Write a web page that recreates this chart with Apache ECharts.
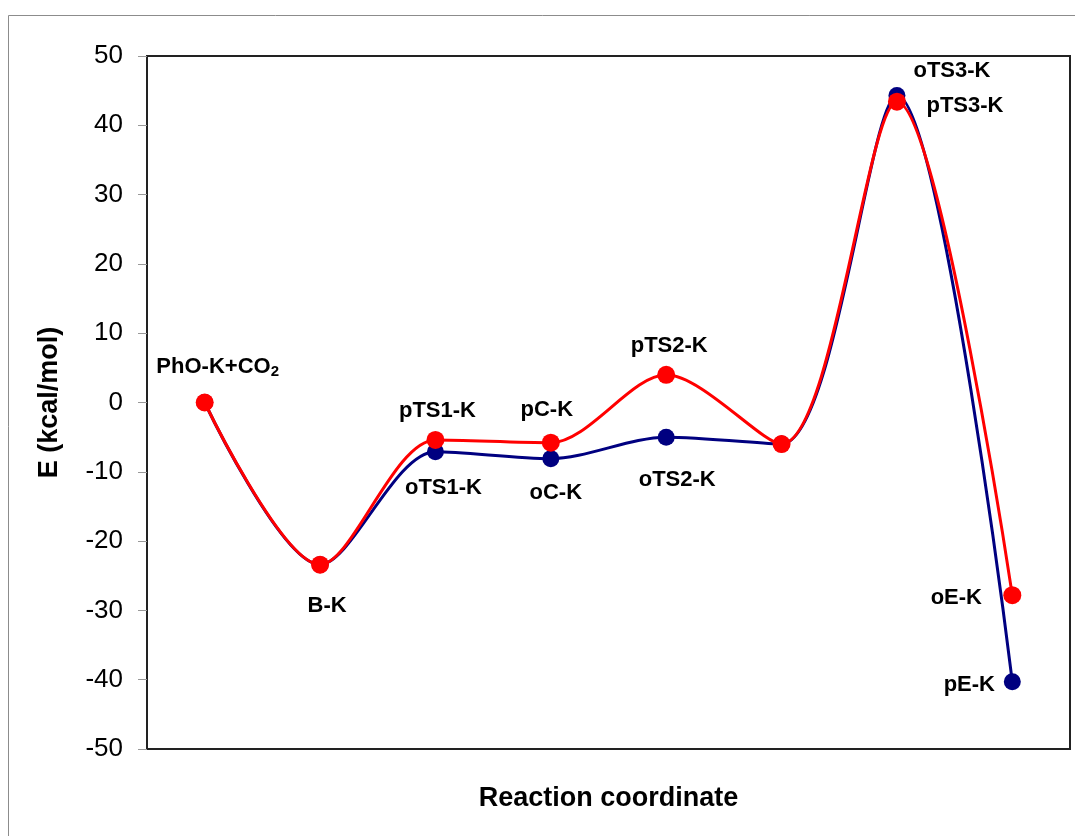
<!DOCTYPE html>
<html>
<head>
<meta charset="utf-8">
<script src="https://cdn.jsdelivr.net/npm/echarts@6/dist/echarts.min.js"></script>
<style>
html,body{margin:0;padding:0;background:#fff;}
#chart{width:1075px;height:836px;}
</style>
</head>
<body>
<div id="chart"></div>
<script>
// ---- data ----
var categories = ['R', 'B', 'TS1', 'C', 'TS2', 'I', 'TS3', 'E'];
var redValues  = [0, -23.4, -5.4, -5.8, 4.0, -6.0, 43.4, -27.8];
var blueValues = [0, -23.4, -7.1, -8.1, -5.0, -6.0, 44.3, -40.3];
var redLabels  = ['{a|PhO-K+CO}{s|2}', 'B-K', 'pTS1-K', 'pC-K', 'pTS2-K', '', 'pTS3-K', 'oE-K'];
var blueLabels = ['', '', 'oTS1-K', 'oC-K', 'oTS2-K', '', 'oTS3-K', 'pE-K'];
var yTicks = {min: -50, max: 50, interval: 10};

// ---- layout / style ----
var redOffsets  = [[13, -36], [7, 41], [2, -29], [-4, -33], [3, -29], [0, 0], [68, 4], [-56, 3]];
var blueOffsets = [[0, 0], [0, 0], [8, 36], [5, 34], [11, 43], [0, 0], [55, -25], [-43, 3]];
var FONT = '"Liberation Sans", Arial, sans-serif';

function buildData(values, labels, offsets) {
  return values.map(function (v, i) {
    var item = {value: v};
    if (labels[i]) {
      item.label = {show: true, formatter: labels[i], offset: offsets[i]};
    } else {
      item.label = {show: false};
    }
    return item;
  });
}

var labelStyle = {
  position: 'inside',
  color: '#000',
  fontFamily: FONT,
  fontWeight: 'bold',
  fontSize: 22,
  rich: {
    a: {fontFamily: FONT, fontWeight: 'bold', fontSize: 22, color: '#000'},
    s: {fontFamily: FONT, fontWeight: 'bold', fontSize: 15, color: '#000', padding: [10, 0, 0, 0]}
  }
};

var chart = echarts.init(document.getElementById('chart'), null, {renderer: 'canvas'});
chart.setOption({
  animation: false,
  backgroundColor: '#fff',
  graphic: [{
    type: 'rect',
    shape: {x: 8.5, y: 15.5, width: 1200, height: 1000},
    style: {fill: 'none', stroke: '#8c8c8c', lineWidth: 1},
    silent: true,
    z: -10
  }],
  grid: {
    left: 147, top: 56, right: 5, bottom: 87,
    show: true, borderColor: '#222', borderWidth: 2, backgroundColor: 'transparent'
  },
  xAxis: {
    type: 'category',
    data: categories,
    boundaryGap: true,
    name: 'Reaction coordinate',
    nameLocation: 'middle',
    nameGap: 36,
    nameTextStyle: {fontFamily: FONT, fontWeight: 'bold', fontSize: 27, color: '#000'},
    axisLine: {show: false, onZero: false},
    axisTick: {show: false},
    axisLabel: {show: false},
    splitLine: {show: false}
  },
  yAxis: {
    type: 'value',
    min: yTicks.min, max: yTicks.max, interval: yTicks.interval,
    name: 'E (kcal/mol)',
    nameLocation: 'middle',
    nameGap: 84,
    nameRotate: 90,
    nameTextStyle: {fontFamily: FONT, fontWeight: 'bold', fontSize: 27, color: '#000'},
    axisLine: {show: true, onZero: false, lineStyle: {color: '#222', width: 2}},
    axisTick: {show: true, inside: false, length: 9, lineStyle: {color: '#999', width: 1}},
    axisLabel: {fontFamily: FONT, fontSize: 26, color: '#000', margin: 24},
    splitLine: {show: false}
  },
  series: [
    {
      name: 'o',
      type: 'line',
      data: buildData(blueValues, blueLabels, blueOffsets),
      smooth: 0.3,
      symbol: 'circle',
      symbolSize: 17,
      showAllSymbol: true,
      lineStyle: {color: '#000080', width: 3},
      itemStyle: {color: '#000080'},
      label: labelStyle,
      emphasis: {disabled: true},
      z: 2
    },
    {
      name: 'p',
      type: 'line',
      data: buildData(redValues, redLabels, redOffsets),
      smooth: 0.3,
      symbol: 'circle',
      symbolSize: 18,
      showAllSymbol: true,
      lineStyle: {color: '#ff0000', width: 3},
      itemStyle: {color: '#ff0000'},
      label: labelStyle,
      emphasis: {disabled: true},
      z: 3
    }
  ]
});
</script>
</body>
</html>
